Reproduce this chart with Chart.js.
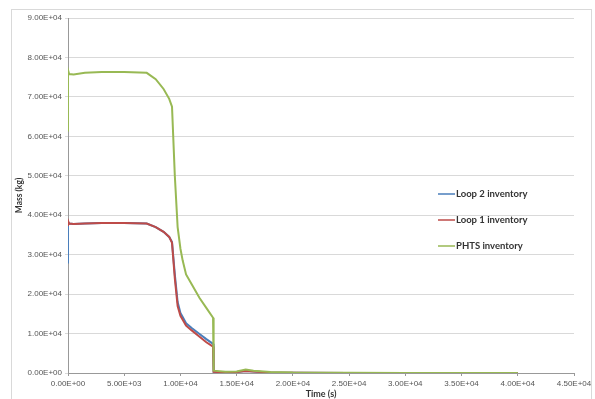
<!DOCTYPE html>
<html>
<head>
<meta charset="utf-8">
<script src="https://cdn.jsdelivr.net/npm/chart.js@4.4.1/dist/chart.umd.min.js"></script>
<style>
  body { margin: 0; background: #fff; }
  #wrap { position: relative; width: 595px; height: 399px; overflow: hidden; }
  #frame { position: absolute; left: 11px; top: 9px; width: 581px; height: 400px; border: 1px solid #d9d9d9; box-sizing: border-box; }
  canvas { position: absolute; left: 0; top: 0; }
</style>
</head>
<body>
<div id="wrap">
  <div id="frame"></div>
  <canvas id="chart" width="595" height="399"></canvas>
</div>
<script>
// Tiempo (s)
const time = [0, 1, 100, 500, 1500, 3000, 5000, 7000, 7800, 8500, 9000, 9250, 9500, 9750,
  10000, 10200, 10500, 11000, 11700, 12300, 12900, 12950, 14000, 15000, 15800, 16500,
  18000, 20000, 25000, 30000, 35000, 40000];

// Masa (kg)
const loop2 = [28000, 38200, 37900, 37800, 37900, 38000, 38000, 37900, 37000, 35800, 34500, 33200, 25000, 18000,
  15200, 14200, 12600, 11400, 9900, 8600, 7400, 300, 150, 250, 500, 350,
  150, 50, 0, 0, 0, 0];
const loop1 = [37500, 38600, 37900, 37800, 37900, 38000, 38000, 37900, 37000, 35800, 34500, 33000, 24000, 17000,
  14500, 13500, 12000, 10800, 9200, 7800, 6700, 300, 150, 250, 500, 350,
  150, 50, 0, 0, 0, 0];
const phts = [61500, 76800, 75800, 75700, 76100, 76300, 76300, 76100, 74500, 72000, 69500, 67500, 50000, 37000,
  31500, 28500, 25000, 22500, 19000, 16500, 14000, 600, 300, 400, 900, 600,
  250, 100, 50, 0, 0, 0];

const labels = ['Loop 2 inventory', 'Loop 1 inventory', 'PHTS inventory'];
const colors = ['#4a7ebb', '#be4b48', '#98b954'];

// Formato estilo Excel: 9.00E+04
function sci(v) {
  if (v === 0) return '0.00E+00';
  const exp = Math.floor(Math.log10(Math.abs(v)));
  const mant = (v / Math.pow(10, exp)).toFixed(2);
  const sign = exp < 0 ? '-' : '+';
  return mant + 'E' + sign + String(Math.abs(exp)).padStart(2, '0');
}

function pts(values) {
  return time.map((t, i) => ({ x: t, y: values[i] }));
}

// Leyenda dibujada dentro del área del gráfico
const legendPlugin = {
  id: 'insideLegend',
  afterDraw(chart) {
    const ctx = chart.ctx;
    const ys = [194, 220, 246];
    ctx.save();
    ctx.font = 'bold 9.5px Lato, "Open Sans", sans-serif';
    ctx.textBaseline = 'middle';
    chart.data.datasets.forEach((ds, i) => {
      ctx.strokeStyle = ds.borderColor;
      ctx.lineWidth = 1.5;
      ctx.beginPath();
      ctx.moveTo(438, ys[i]);
      ctx.lineTo(455, ys[i]);
      ctx.stroke();
      ctx.fillStyle = '#333';
      ctx.fillText(ds.label, 456, ys[i]);
    });
    ctx.restore();
  }
};

const ctx = document.getElementById('chart').getContext('2d');
new Chart(ctx, {
  type: 'line',
  data: {
    datasets: [
      { label: labels[0], data: pts(loop2), borderColor: colors[0], order: 3 },
      { label: labels[1], data: pts(loop1), borderColor: colors[1], order: 2 },
      { label: labels[2], data: pts(phts), borderColor: colors[2], order: 1 }
    ]
  },
  options: {
    responsive: false,
    animation: false,
    layout: { padding: { left: 14, right: 21, top: 18, bottom: 0 } },
    elements: {
      line: { borderWidth: 2, tension: 0 },
      point: { radius: 0 }
    },
    plugins: {
      legend: { display: false },
      tooltip: { enabled: false }
    },
    scales: {
      x: {
        type: 'linear',
        min: 0,
        max: 45000,
        ticks: {
          stepSize: 5000,
          callback: v => sci(v),
          font: { size: 8, family: 'Liberation Sans' },
          color: '#555',
          maxRotation: 0,
          padding: 3
        },
        grid: { drawOnChartArea: false, drawTicks: true, tickLength: 3, color: '#999' },
        border: { color: '#999' },
        title: {
          display: true,
          text: 'Time (s)',
          font: { size: 9, weight: 'bold', family: 'Lato' },
          color: '#333',
          padding: { top: 0, bottom: 0 }
        },
        afterFit: s => { s.height = 26; }
      },
      y: {
        min: 0,
        max: 90000,
        ticks: {
          stepSize: 10000,
          callback: v => sci(v),
          font: { size: 8, family: 'Liberation Sans' },
          color: '#555',
          padding: 3
        },
        grid: { color: '#d9d9d9', tickLength: 3 },
        border: { color: '#999' },
        title: {
          display: true,
          text: 'Mass (kg)',
          font: { size: 8.5, weight: 'bold', family: 'Lato' },
          color: '#333',
          padding: { top: 0, bottom: 0 }
        },
        afterFit: s => { s.width = 54; }
      }
    }
  },
  plugins: [legendPlugin]
});
</script>
</body>
</html>
